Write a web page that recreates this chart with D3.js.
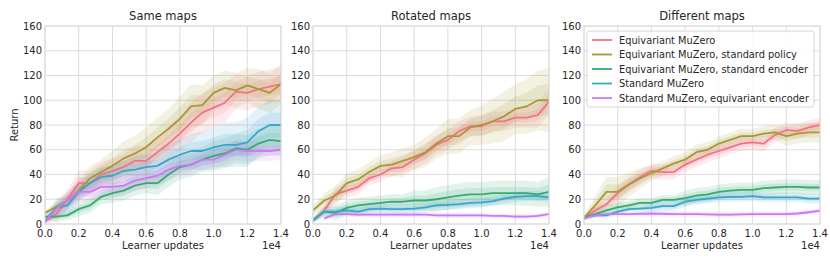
<!DOCTYPE html>
<html>
<head>
<meta charset="utf-8">
<script src="https://cdn.jsdelivr.net/npm/d3@7"></script>
<style>
  body { margin: 0; background: #fff; }
  text { font-family: "DejaVu Sans", sans-serif; fill: #262626; }
</style>
</head>
<body>
<script>
// x steps: 22 evaluation points from 0 to 1.4e4
var steps = d3.range(22).map(function(i) { return i * 14000 / 21; });
var panelTitles = ["Same maps", "Rotated maps", "Different maps"];
var seriesNames = ["Equivariant MuZero", "Equivariant MuZero, standard policy",
    "Equivariant MuZero, standard encoder", "Standard MuZero", "Standard MuZero, equivariant encoder"];
var colors = ["#f77189", "#a59a35", "#33ac6e", "#38a5cb", "#cc7af4"];
var yTicks = [0, 20, 40, 60, 80, 100, 120, 140, 160];
var xTicks = [0, 2000, 4000, 6000, 8000, 10000, 12000, 14000];

// Same maps
var sameEqv    = [2, 8, 20, 33, 33, 40, 43, 46, 51, 51, 58, 65, 73, 82, 90, 94, 98, 107, 106, 109, 111, 113];
var samePolicy = [9, 14, 19, 27, 37, 42, 47, 53, 57, 62, 70, 77, 85, 95, 96, 106, 110, 108, 112, 109, 106, 113];
var sameEnc    = [6, 6, 7, 12, 15, 22, 25, 27, 31, 33, 33, 40, 46, 48, 52, 55, 57, 61, 60, 65, 68, 67];
var sameStd    = [3, 13, 15, 26, 33, 38, 39, 43, 44, 46, 47, 52, 56, 59, 59, 62, 64, 64, 66, 75, 80, 80];
var sameStdEnc = [2, 12, 19, 26, 26, 30, 30, 31, 35, 37, 39, 44, 47, 48, 52, 52, 56, 60, 59, 59, 59, 60];
// Rotated maps
var rotEqv    = [3, 11, 24, 27, 30, 37, 40, 45, 46, 52, 57, 64, 68, 75, 79, 79, 83, 83, 86, 86, 88, 99];
var rotPolicy = [11, 19, 23, 33, 36, 42, 47, 48, 51, 54, 58, 65, 71, 71, 78, 80, 83, 87, 93, 95, 100, 100];
var rotEnc    = [3, 10, 9, 13, 15, 16, 17, 18, 18, 19, 19, 20, 21.5, 23, 24, 24, 25, 25, 25, 25, 24, 26];
var rotStd    = [3, 10, 10, 11, 10, 12, 12.5, 12, 12, 12.5, 13.5, 15, 15.5, 16, 17, 17.5, 18.5, 20.5, 22, 22.5, 22.5, 21.5];
var rotStdEnc = [null, 4.5, 8, 8, 7.5, 7.5, 7.5, 7.5, 7.5, 7.5, 7.5, 7, 7, 7, 7, 7, 6.5, 6.5, 6, 6, 6.5, 8];
// Different maps
var diffEqv    = [5, 11, 16, 25, 32, 38, 43, 42, 42, 48, 52, 56, 59, 62, 65, 66, 65, 72, 76, 75, 78, 80];
var diffPolicy = [5, 15, 26, 26, 32, 37, 41, 45, 49, 52, 58, 60, 65, 68, 71, 71, 73, 74, 71, 73, 74, 74];
var diffEnc    = [5, 8, 11, 13.5, 15, 17, 17, 19.5, 19.5, 21, 23, 24, 26, 27, 27.5, 27.5, 29, 29.5, 30, 30, 29.5, 29.5];
var diffStd    = [5, 7, 7, 10, 12, 12.5, 13, 14.5, 14.5, 18, 19.5, 20.5, 21.5, 22, 22, 22.5, 21.5, 21.5, 21.5, 21.5, 20.5, 20.5];
var diffStdEnc = [4.5, 7, 8, 8, 8, 8.3, 8.3, 8.3, 8, 8, 8, 7.8, 7.5, 7.5, 7.8, 8, 8, 8, 8, 8.5, 9.5, 10.7];

// inner band half widths (outer band is twice as wide)
var sameEqvSd    = [1, 3, 4, 5, 5, 5, 5, 5, 6, 6, 6, 7, 7, 8, 8, 8, 8, 7, 7, 7, 7, 7];
var samePolicySd = [1, 2, 3, 4, 5, 5, 6, 7, 7, 8, 8, 8, 9, 9, 8, 7, 7, 7, 7, 8, 8, 8];
var sameEncSd    = [1, 2, 2, 3, 3, 3, 4, 4, 4, 4, 5, 5, 5, 5, 5, 6, 6, 6, 6, 6, 6, 6];
var sameStdSd    = [1, 4, 4, 4, 4, 4, 4, 4, 5, 5, 5, 6, 6, 7, 8, 8, 9, 9, 10, 10, 10, 10];
var sameStdEncSd = [1, 3, 4, 4, 4, 4, 4, 4, 4, 4, 4, 4, 4, 4, 4, 4, 4, 4, 4, 4, 4, 4];
var rotEqvSd    = [1, 2, 3, 3, 3, 3, 3, 3, 4, 4, 4, 4, 4, 4, 4, 4, 4, 4, 4, 4, 5, 5];
var rotPolicySd = [2, 3, 4, 4, 4, 4, 4, 5, 5, 5, 6, 6, 7, 7, 7, 8, 9, 10, 10, 11, 12, 13];
var rotEncSd    = [1, 2, 3, 3, 3, 3, 3, 3, 3, 4, 4, 5, 5, 5, 5, 5, 5, 5, 5, 5, 5, 6];
var rotStdSd    = [1, 2, 2, 2, 2, 2, 2, 2, 2, 2, 2, 2, 2, 2, 2, 2, 2, 2, 2, 2, 2, 2];
var rotStdEncSd = [0, 1, 1, 1, 1, 1, 1, 1, 1, 1, 1, 1, 1, 1, 1, 1, 1, 1, 1, 1, 1, 1];
var diffEqvSd    = [1, 2, 2, 3, 3, 3, 3, 3, 3, 3, 3, 3, 3, 3, 3, 3, 3, 3, 3, 3, 3, 3];
var diffPolicySd = [1, 4, 6, 6, 5, 4, 3, 3, 3, 3, 3, 3, 3, 3, 3, 3, 3, 3, 4, 4, 4, 4];
var diffEncSd    = [1, 1, 2, 2, 2, 2, 2, 2, 2, 3, 3, 3, 3, 3, 3, 3, 3, 3, 3, 3, 3, 3];
var diffStdSd    = [1, 1, 1, 1, 1, 1, 2, 2, 2, 2, 2, 2, 2, 2, 2, 2, 2, 2, 2, 2, 2, 2];
var diffStdEncSd = [0, 1, 1, 1, 1, 1, 1, 1, 1, 1, 1, 1, 1, 1, 1, 1, 1, 1, 1, 1, 1, 1];

var panels = [
    { means: [sameEqv, samePolicy, sameEnc, sameStd, sameStdEnc],
      sds: [sameEqvSd, samePolicySd, sameEncSd, sameStdSd, sameStdEncSd] },
    { means: [rotEqv, rotPolicy, rotEnc, rotStd, rotStdEnc],
      sds: [rotEqvSd, rotPolicySd, rotEncSd, rotStdSd, rotStdEncSd] },
    { means: [diffEqv, diffPolicy, diffEnc, diffStd, diffStdEnc],
      sds: [diffEqvSd, diffPolicySd, diffEncSd, diffStdSd, diffStdEncSd] }
];

var W = 830, H = 260;
var lefts = [45, 313, 584], pw = 236;
var plotTop = 26, plotBottom = 224;

var svg = d3.select("body").append("svg")
    .attr("width", W)
    .attr("height", H);

panels.forEach(function(p, k) {
    var x = d3.scaleLinear().domain([0, 14000]).range([lefts[k], lefts[k] + pw]);
    var y = d3.scaleLinear().domain([0, 160]).range([plotBottom, plotTop]);
    var g = svg.append("g");

    g.append("clipPath").attr("id", "clip" + k)
        .append("rect")
        .attr("x", lefts[k]).attr("y", plotTop)
        .attr("width", pw).attr("height", plotBottom - plotTop);

    // grid
    g.selectAll(".gx").data(xTicks).enter().append("line")
        .attr("x1", function(d) { return x(d); })
        .attr("x2", function(d) { return x(d); })
        .attr("y1", plotTop).attr("y2", plotBottom)
        .attr("stroke", "#dcdcdc").attr("stroke-width", 1);
    g.selectAll(".gy").data(yTicks).enter().append("line")
        .attr("x1", lefts[k]).attr("x2", lefts[k] + pw)
        .attr("y1", function(d) { return y(d); })
        .attr("y2", function(d) { return y(d); })
        .attr("stroke", "#dcdcdc").attr("stroke-width", 1);

    var plot = g.append("g").attr("clip-path", "url(#clip" + k + ")");

    // bands
    p.means.forEach(function(m, s) {
        var sd = p.sds[s];
        [2, 1].forEach(function(f) {
            var area = d3.area()
                .defined(function(d, i) { return m[i] !== null; })
                .x(function(d, i) { return x(steps[i]); })
                .y0(function(d, i) { return y(Math.max(0, m[i] - f * sd[i])); })
                .y1(function(d, i) { return y(m[i] + f * sd[i]); });
            plot.append("path")
                .datum(m)
                .attr("d", area)
                .attr("fill", colors[s])
                .attr("fill-opacity", 0.14)
                .attr("stroke", "none");
        });
    });

    // lines
    p.means.forEach(function(m, s) {
        var line = d3.line()
            .defined(function(d) { return d !== null; })
            .x(function(d, i) { return x(steps[i]); })
            .y(function(d) { return y(d); });
        plot.append("path")
            .datum(m)
            .attr("d", line)
            .attr("fill", "none")
            .attr("stroke", colors[s])
            .attr("stroke-width", 1.8)
            .attr("stroke-linejoin", "round");
    });

    // frame
    g.append("rect")
        .attr("x", lefts[k]).attr("y", plotTop)
        .attr("width", pw).attr("height", plotBottom - plotTop)
        .attr("fill", "none")
        .attr("stroke", "#dcdcdc").attr("stroke-width", 1);

    // tick labels
    g.selectAll(".tx").data(xTicks).enter().append("text")
        .attr("x", function(d) { return x(d); })
        .attr("y", 237)
        .attr("text-anchor", "middle")
        .attr("font-size", "10px")
        .text(function(d) { return (d / 1e4).toFixed(1); });
    g.selectAll(".ty").data(yTicks).enter().append("text")
        .attr("x", lefts[k] - 3)
        .attr("y", function(d) { return y(d) + 3.5; })
        .attr("text-anchor", "end")
        .attr("font-size", "10px")
        .text(function(d) { return d; });

    g.append("text")
        .attr("x", lefts[k] + pw / 2).attr("y", 20)
        .attr("text-anchor", "middle")
        .attr("font-size", "11.5px")
        .text(panelTitles[k]);
    g.append("text")
        .attr("x", lefts[k] + pw / 2).attr("y", 249)
        .attr("text-anchor", "middle")
        .attr("font-size", "10px")
        .text("Learner updates");
    g.append("text")
        .attr("x", lefts[k] + pw).attr("y", 249)
        .attr("text-anchor", "end")
        .attr("font-size", "10px")
        .text("1e4");
});

svg.append("text")
    .attr("transform", "translate(18,125) rotate(-90)")
    .attr("text-anchor", "middle")
    .attr("font-size", "10px")
    .text("Return");

// legend in the last panel
var lg = svg.append("g").attr("transform", "translate(587,31)");
lg.append("rect")
    .attr("width", 227).attr("height", 76).attr("rx", 2.5)
    .attr("fill", "#ffffff").attr("fill-opacity", 0.85)
    .attr("stroke", "#cccccc").attr("stroke-width", 0.8);
var items = lg.selectAll(".item").data(seriesNames).enter().append("g")
    .attr("transform", function(d, i) { return "translate(0," + (9 + i * 14.5) + ")"; });
items.append("line")
    .attr("x1", 5).attr("x2", 25)
    .attr("stroke", function(d, i) { return colors[i]; })
    .attr("stroke-width", 1.8);
var labels = items.append("text")
    .attr("x", 32).attr("y", 3.5)
    .attr("font-size", "10px")
    .text(function(d) { return d; });
// fit the longest label to the legend box (about 190px wide)
var widest = d3.max(labels.nodes(), function(n) { return n.getComputedTextLength(); });
labels.attr("font-size", Math.min(11, 10 * 190 / widest) + "px");
</script>
</body>
</html>
